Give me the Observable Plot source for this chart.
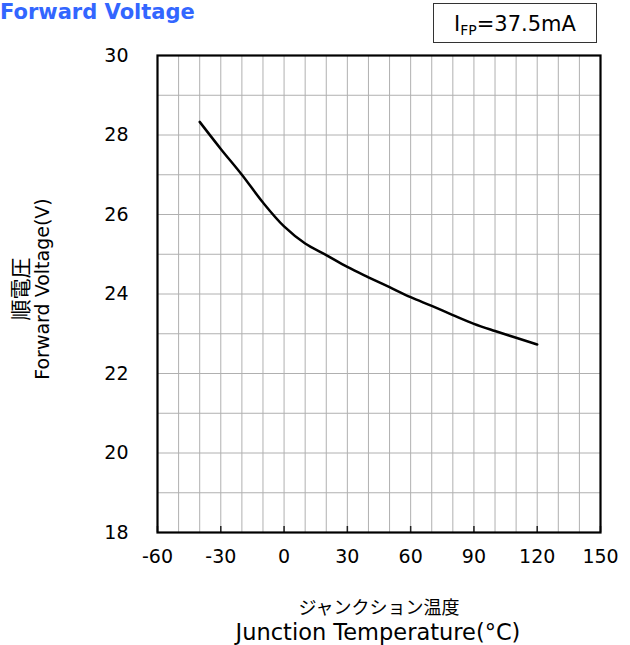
<!DOCTYPE html>
<html>
<head>
<meta charset="utf-8">
<script src="https://cdn.jsdelivr.net/npm/d3@7"></script>
<script src="https://cdn.jsdelivr.net/npm/@observablehq/plot@0.6"></script>
<style>
  html, body { margin: 0; padding: 0; background: #fff; }
  #chart { position: relative; width: 630px; height: 645px; }
</style>
</head>
<body>
<div id="chart"></div>
<script>
// Junction temperature (°C)
const temperature = [-40, -30, -20, -10, 0, 10, 20, 30, 40, 50, 60, 70, 80, 90, 100, 110, 120];
// Forward voltage (V)
const voltage = [28.33, 27.65, 27.0, 26.3, 25.7, 25.27, 24.98, 24.68, 24.42, 24.17, 23.92, 23.70, 23.47, 23.25, 23.07, 22.90, 22.73];

const xTicks = [-60, -30, 0, 30, 60, 90, 120, 150];
const yTicks = [18, 20, 22, 24, 26, 28, 30];
const xGrid = d3.range(-60, 151, 10);
const yGrid = d3.range(18, 30.01, 1);

const titleText = "Forward Voltage";
const conditionMain = "I";
const conditionSub = "FP";
const conditionRest = "=37.5mA";
const yLabelJa = "順電圧";
const yLabelEn = "Forward Voltage(V)";
const xLabelJa = "ジャンクション温度";
const xLabelEn = "Junction Temperature(°C)";

const data = temperature.map((t, i) => ({t, v: voltage[i]}));

const W = 630, H = 645;
const mL = 157, mR = 30, mT = 55, mB = 113;
const plotH = H - mT - mB;
const font = "DejaVu Sans, Verdana, sans-serif";

const chart = Plot.plot({
  width: W,
  height: H,
  marginLeft: mL,
  marginRight: mR,
  marginTop: mT,
  marginBottom: mB,
  style: {fontFamily: font, fontSize: "19px", color: "#000", background: "#fff"},
  x: {domain: [-60, 150], label: null},
  y: {domain: [18, 30], label: null},
  marks: [
    Plot.ruleX(xGrid, {stroke: "#b0b0b0", strokeWidth: 1}),
    Plot.ruleY(yGrid, {stroke: "#b0b0b0", strokeWidth: 1}),
    Plot.ruleX(xTicks, {y1: 30, y2: 18, insetTop: plotH - 6, stroke: "#222", strokeWidth: 1.5}),
    Plot.line(data, {x: "t", y: "v", curve: "catmull-rom", stroke: "#000", strokeWidth: 2.5}),
    Plot.frame({stroke: "#000", strokeWidth: 2.2}),
    Plot.axisX({ticks: xTicks, tickSize: 0, tickPadding: 17, fontSize: 19, tickFormat: d => String(d)}),
    Plot.axisY({ticks: yTicks, tickSize: 0, tickPadding: 29, fontSize: 19, tickFormat: d => String(d)})
  ]
});

document.getElementById("chart").appendChild(chart);

const svg = d3.select(chart);

// Title
svg.append("text")
  .attr("x", 0).attr("y", 19).attr("text-anchor", "start")
  .attr("font-family", font).attr("font-weight", "bold")
  .attr("font-size", 21).attr("fill", "#3366ff")
  .text(titleText);

// Condition box
svg.append("rect")
  .attr("x", 433.5).attr("y", 3.5).attr("width", 163).attr("height", 39)
  .attr("fill", "#fff").attr("stroke", "#333").attr("stroke-width", 1);
const cond = svg.append("text")
  .attr("x", 515).attr("y", 31).attr("text-anchor", "middle")
  .attr("font-family", font).attr("font-size", 21).attr("fill", "#000");
cond.append("tspan").text(conditionMain);
cond.append("tspan").attr("font-size", 14).attr("dy", 4).text(conditionSub);
cond.append("tspan").attr("dy", -4).text(conditionRest);

// Y-axis label
const yl = svg.append("g").attr("transform", "translate(0,289) rotate(-90)");
yl.append("text").attr("x", 0).attr("y", 28).attr("text-anchor", "middle")
  .attr("font-family", "Noto Sans CJK JP, sans-serif").attr("font-size", 21).text(yLabelJa);
yl.append("text").attr("x", 0).attr("y", 49).attr("text-anchor", "middle")
  .attr("font-family", font).attr("font-size", 19).text(yLabelEn);

// X-axis label
svg.append("text").attr("x", 379).attr("y", 614).attr("text-anchor", "middle")
  .attr("font-family", "Noto Sans CJK JP, sans-serif").attr("font-size", 18).text(xLabelJa);
svg.append("text").attr("x", 378).attr("y", 640).attr("text-anchor", "middle")
  .attr("font-family", font).attr("font-size", 22.5).text(xLabelEn);
</script>
</body>
</html>
